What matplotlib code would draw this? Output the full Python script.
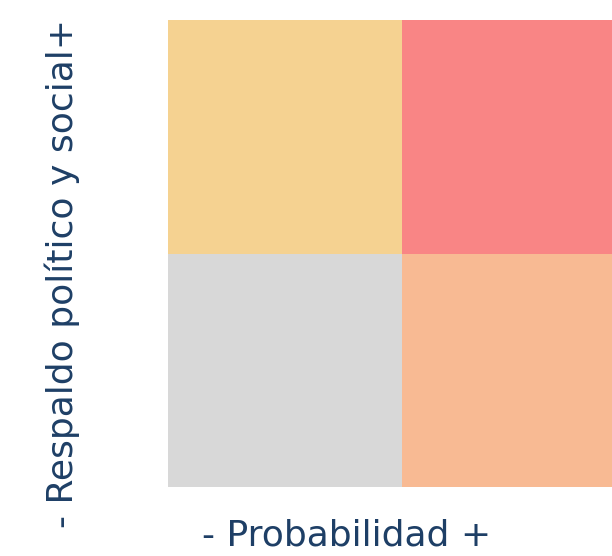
import matplotlib
matplotlib.use('Agg')
import matplotlib.pyplot as plt
from matplotlib.colors import ListedColormap
import numpy as np

# quadrant categories (row 0 = bottom, row 1 = top)
quadrants = [[0, 1],
             [2, 3]]
quadrant_colors = ['#D8D8D8', '#F8BA93', '#F5D291', '#F98585']
x_label = '- Probabilidad +'
y_label = '- Respaldo político y social+'
text_color = '#1E3F66'

fig = plt.figure(figsize=(6.12, 5.56), dpi=100)
ax = fig.add_axes([168/612, 1 - 487/556, 467/612, 467/556])
ax.pcolormesh(np.array(quadrants), cmap=ListedColormap(quadrant_colors),
              vmin=-0.5, vmax=3.5)
ax.set_xlim(0, 2)
ax.set_ylim(0, 2)
ax.axis('off')

fig.text(347/612, 1 - 546/556, x_label, ha='center', va='baseline',
         fontsize=26, color=text_color, family='DejaVu Sans')
fig.text(62/612, 1 - 273/556, y_label, ha='center', va='center',
         rotation=90, fontsize=26, color=text_color, family='DejaVu Sans')

fig.savefig('out.png', dpi=100)
